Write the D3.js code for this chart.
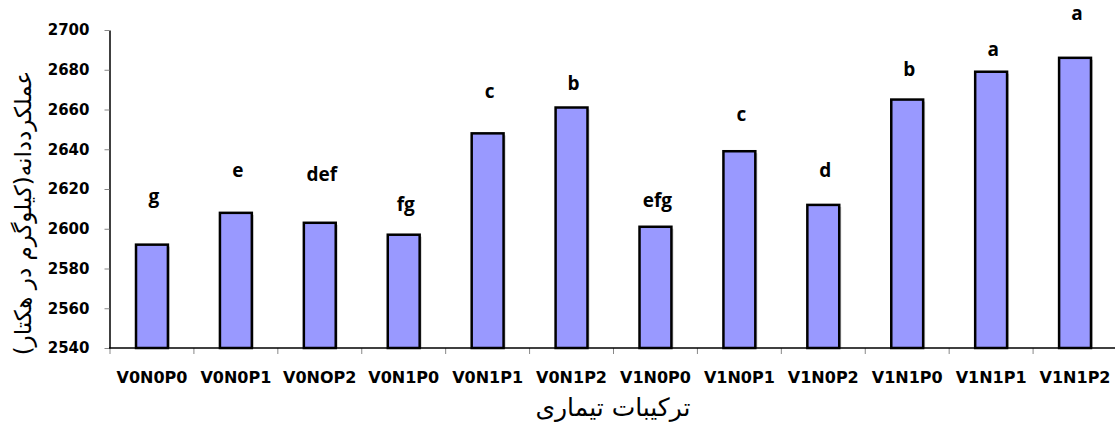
<!DOCTYPE html>
<html>
<head>
<meta charset="utf-8">
<script src="https://cdn.jsdelivr.net/npm/d3@7"></script>
<style>
  body { margin: 0; background: #fff; }
  svg { display: block; }
</style>
</head>
<body>
<div class="bar-chart"></div>
<script>
const treatments = ["V0N0P0", "V0N0P1", "V0NOP2", "V0N1P0", "V0N1P1", "V0N1P2",
  "V1N0P0", "V1N0P1", "V1N0P2", "V1N1P0", "V1N1P1", "V1N1P2"];
const grainYield = [2592, 2608, 2603, 2597, 2648, 2661, 2601, 2639, 2612, 2665, 2679, 2686];
// significance letters and the level (kg/ha) where each one sits
const letters = ["g", "e", "def", "fg", "c", "b", "efg", "c", "d", "b", "a", "a"];
const letterLevel = [2613, 2626, 2624, 2609, 2666, 2670, 2611, 2654, 2626, 2677, 2687, 2705];
const yTicks = [2540, 2560, 2580, 2600, 2620, 2640, 2660, 2680, 2700];
const yTitle = "عملکرددانه(کیلوگرم در هکتار)";
const xTitle = "ترکیبات تیماری";

const width = 1115;
const height = 430;
const margin = {top: 30, right: -2, bottom: 82, left: 110};

const svg = d3.select(".bar-chart")
  .append("svg")
  .attr("width", width)
  .attr("height", height);

const x = d3.scaleBand()
  .domain(treatments)
  .range([margin.left, width - margin.right])
  .padding(0);

const y = d3.scaleLinear()
  .domain([2540, 2700])
  .range([height - margin.bottom, margin.top]);

const barW = x.bandwidth() * 0.38;
const y0 = y(2540);

// y axis
const yAxis = g => g
  .attr("transform", `translate(${margin.left - 0.5},0)`)
  .call(d3.axisLeft(y).tickValues(yTicks).tickFormat(d3.format("d"))
    .tickSize(5).tickPadding(15).tickSizeOuter(0))
  .call(g => g.select(".domain").attr("stroke", "#000").attr("stroke-width", 1.5))
  .call(g => g.selectAll(".tick line").attr("stroke", "#888"))
  .call(g => g.selectAll(".tick text")
    .attr("fill", "#000")
    .attr("font-family", "DejaVu Sans")
    .attr("font-weight", "bold")
    .attr("font-size", 15));

svg.append("g").call(yAxis);

// bar shadows + bars
svg.append("g")
  .selectAll("rect")
  .data(treatments)
  .join("rect")
  .attr("x", (d, i) => x(d) + x.bandwidth() / 2 - barW / 2 + 2)
  .attr("y", (d, i) => y(grainYield[i]) + 2)
  .attr("width", barW)
  .attr("height", (d, i) => y0 - y(grainYield[i]) - 2)
  .attr("fill", "#c8c8c8");

svg.append("g")
  .selectAll("rect")
  .data(treatments)
  .join("rect")
  .attr("x", d => x(d) + x.bandwidth() / 2 - barW / 2)
  .attr("y", (d, i) => y(grainYield[i]))
  .attr("width", barW)
  .attr("height", (d, i) => y0 - y(grainYield[i]))
  .attr("fill", "#9999ff")
  .attr("stroke", "#000")
  .attr("stroke-width", 2.5);

// x axis
const xAxis = g => g
  .attr("transform", `translate(0,${y0})`)
  .call(d3.axisBottom(x).tickSize(0).tickPadding(24).tickSizeOuter(0))
  .call(g => g.select(".domain").remove())
  .call(g => g.selectAll(".tick text")
    .attr("fill", "#000")
    .attr("font-family", "DejaVu Sans")
    .attr("font-weight", "bold")
    .attr("font-size", 16));

svg.append("g").call(xAxis);

// category boundary ticks
svg.append("g")
  .selectAll("line")
  .data(treatments.map(d => x(d)).concat([x.range()[1]]))
  .join("line")
  .attr("x1", d => d)
  .attr("x2", d => d)
  .attr("y1", y0)
  .attr("y2", y0 + 6)
  .attr("stroke", "#888");

svg.append("line")
  .attr("x1", margin.left - 1)
  .attr("x2", width)
  .attr("y1", y0)
  .attr("y2", y0)
  .attr("stroke", "#000")
  .attr("stroke-width", 1.5);

// letters
svg.append("g")
  .selectAll("text")
  .data(letters)
  .join("text")
  .attr("x", (d, i) => x(treatments[i]) + x.bandwidth() / 2 + 2)
  .attr("y", (d, i) => y(letterLevel[i]))
  .attr("text-anchor", "middle")
  .attr("font-family", "Open Sans")
  .attr("font-weight", "bold")
  .attr("font-size", 19)
  .text(d => d);

// axis titles
svg.append("text")
  .attr("transform", "translate(31,213) rotate(-90)")
  .attr("text-anchor", "middle")
  .attr("font-family", "DejaVu Sans")
  .attr("font-size", 23)
  .attr("direction", "rtl")
  .text(yTitle);

svg.append("text")
  .attr("x", 613)
  .attr("y", 416)
  .attr("text-anchor", "middle")
  .attr("font-family", "DejaVu Sans")
  .attr("font-size", 25)
  .attr("direction", "rtl")
  .text(xTitle);
</script>
</body>
</html>
